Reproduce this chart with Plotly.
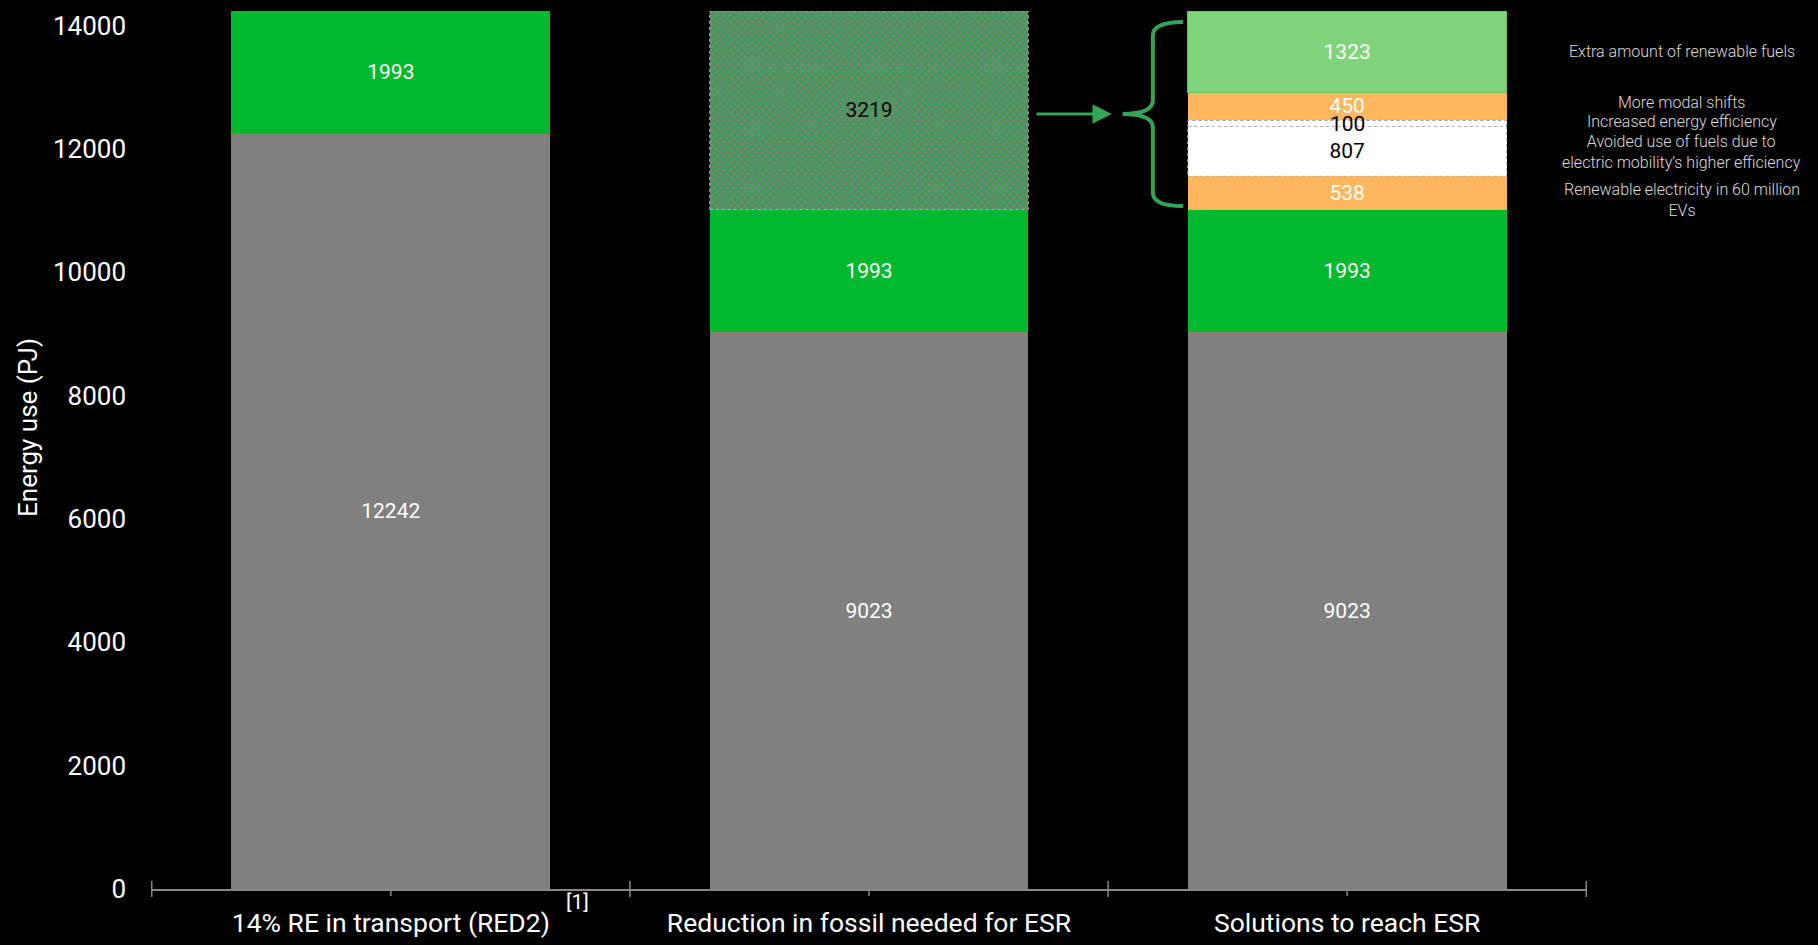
import plotly.graph_objects as go

categories = ["14% RE in transport (RED2)", "Reduction in fossil needed for ESR", "Solutions to reach ESR"]

fossil = [12242, 9023, 9023]
re_red2 = [1993, 1993, 1993]
reduction_needed = [None, 3219, None]
ev_electricity = [None, None, 538]
avoided_fuels = [None, None, 807]
energy_efficiency = [None, None, 100]
modal_shifts = [None, None, 450]
extra_renewable = [None, None, 1323]

side_labels = {
    "extra": "Extra amount of renewable fuels",
    "modal": "More modal shifts",
    "eff": "Increased energy efficiency",
    "avoided": "Avoided use of fuels due to<br>electric mobility\u2019s higher efficiency",
    "ev": "Renewable electricity in 60 million<br>EVs",
}

GREY = "#808080"
GREEN = "#00b92e"
LIGHT_GREEN = "#7fd47b"
ORANGE = "#ffb75e"
WHITE = "#ffffff"
ACCENT = "#36a456"

FONT = "Roboto"
BAR_HALF = 1 / 3.0

fig = go.Figure()


def add_layer(vals, color, textcolor, line_color=None, pattern=None, show_text=True):
    txt = [str(v) if (v is not None and show_text) else "" for v in vals]
    marker = dict(color=color, line=dict(width=0))
    if line_color:
        marker["line"] = dict(width=1, color=line_color)
    if pattern:
        marker["pattern"] = pattern
    fig.add_trace(go.Bar(
        x=categories, y=vals, text=txt,
        textposition="inside", insidetextanchor="middle", textangle=0,
        constraintext="none",
        textfont=dict(family=FONT, size=21, color=textcolor),
        marker=marker, showlegend=False, hoverinfo="skip",
    ))


add_layer(fossil, GREY, WHITE)
add_layer(re_red2, GREEN, WHITE)
add_layer(reduction_needed, GREY, "#000000",
          pattern=dict(shape="x", fgcolor=GREEN, bgcolor=GREY, size=5, solidity=0.7))
add_layer(ev_electricity, ORANGE, WHITE)
add_layer(avoided_fuels, WHITE, "#000000")
add_layer(energy_efficiency, WHITE, "#000000", show_text=False)
add_layer(modal_shifts, ORANGE, WHITE)
add_layer(extra_renewable, LIGHT_GREEN, WHITE, line_color="#6cc06a")

# cumulative stacks
def stack_bounds(idx, layers):
    base = 0
    out = []
    for vals in layers:
        v = vals[idx] or 0
        out.append((base, base + v))
        base += v
    return out

layers = [fossil, re_red2, reduction_needed, ev_electricity, avoided_fuels,
          energy_efficiency, modal_shifts, extra_renewable]
b1 = stack_bounds(1, layers)
b2 = stack_bounds(2, layers)
total = b2[-1][1]

shapes = []
# dotted outlines
for (idx, (y0, y1), col) in [(1, b1[2], "#b0b0b0"), (2, b2[5], "#8a8a8a"), (2, b2[4], "#b0b0b0")]:
    shapes.append(dict(type="rect", xref="x", yref="y", x0=idx - BAR_HALF, x1=idx + BAR_HALF,
                       y0=y0, y1=y1, line=dict(color=col, width=1, dash="dot"), layer="above"))

# ticks on x axis
for b in [-0.5, 0.5, 1.5, 2.5]:
    shapes.append(dict(type="line", xref="x", yref="paper", ysizemode="pixel", yanchor=0,
                       x0=b, x1=b, y0=-8, y1=8, line=dict(color="#888888", width=1.5)))
for c in [0, 1, 2]:
    shapes.append(dict(type="line", xref="x", yref="paper", ysizemode="pixel", yanchor=0,
                       x0=c, x1=c, y0=-7, y1=0, line=dict(color="#888888", width=1.5)))

# brace
def c2p(c):
    return (c + 0.5) / 3.0

x_tip = c2p(1.530)
x_v = c2p(1.593)
x_h = c2p(1.656)
y_top = total - 180
y_bot = b2[2][1] + 55
y_mid = (b1[2][0] + b1[2][1]) / 2 - 60
dy = 220
path = (f"M {x_h},{y_top} Q {x_v},{y_top} {x_v},{y_top - dy} "
        f"L {x_v},{y_mid + dy} Q {x_v},{y_mid} {x_tip},{y_mid} "
        f"Q {x_v},{y_mid} {x_v},{y_mid - dy} "
        f"L {x_v},{y_bot + dy} Q {x_v},{y_bot} {x_h},{y_bot}")
shapes.append(dict(type="path", xref="paper", yref="y", path=path,
                   line=dict(color=ACCENT, width=4)))

annotations = []
# arrow
annotations.append(dict(x=1.508, y=y_mid, ax=1.347, ay=y_mid, xref="x", yref="y",
                        axref="x", ayref="y", showarrow=True, arrowhead=2, arrowsize=1.3,
                        arrowwidth=3, arrowcolor=ACCENT, text=""))

# label of the thin 100 segment, drawn on top of neighbouring segments
annotations.append(dict(x=categories[2], xref="x", y=(b2[5][0] + b2[5][1]) / 2, yref="y",
                        text=str(energy_efficiency[2]), showarrow=False, yshift=-1,
                        font=dict(family=FONT, size=21, color="#000000")))

# side labels
side = [("extra", b2[7], 0), ("modal", b2[6], 4), ("eff", b2[5], 2),
        ("avoided", b2[4], -1), ("ev", b2[3], -7)]
for key, (y0, y1), shift in side:
    annotations.append(dict(x=1.066, xref="paper", y=(y0 + y1) / 2, yref="y", yshift=shift,
                            text=side_labels[key], showarrow=False, align="center",
                            xanchor="center", yanchor="middle",
                            font=dict(family=FONT, size=16, color="#dddddd", weight=300)))

annotations.append(dict(x=(577 - 151) / 1436, xref="paper", y=-0.0148, yref="paper",
                        text="[1]", showarrow=False, xanchor="center", yanchor="middle",
                        font=dict(family=FONT, size=21, color=WHITE)))
annotations.append(dict(x=(28 - 151) / 1436, xref="paper", y=(889 - 428) / 878, yref="paper",
                        text="Energy use (PJ)", textangle=-90, showarrow=False,
                        xanchor="center", yanchor="middle",
                        font=dict(family=FONT, size=26, color=WHITE)))

fig.update_layout(
    width=1818, height=945,
    margin=dict(l=151, r=231, t=11, b=56, autoexpand=False),
    paper_bgcolor="#000000", plot_bgcolor="#000000",
    barmode="stack", bargap=1 / 3.0,
    shapes=shapes, annotations=annotations,
    font=dict(family=FONT, color=WHITE),
    xaxis=dict(showgrid=False, zeroline=False, showline=True, linecolor="#888888", linewidth=1.5,
               ticks="", tickfont=dict(family=FONT, size=26.5, color=WHITE),
               ticklabelstandoff=9, automargin=False),
    yaxis=dict(range=[0, total], showgrid=False, zeroline=False, showline=False,
               tickvals=[0, 2000, 4000, 6000, 8000, 10000, 12000, 14000],
               ticktext=["0", "2000", "4000", "6000", "8000", "10000", "12000", "14000"],
               ticks="", tickfont=dict(family=FONT, size=26, color=WHITE),
               ticklabelstandoff=24, automargin=False),
)

fig.write_html("out.html")
